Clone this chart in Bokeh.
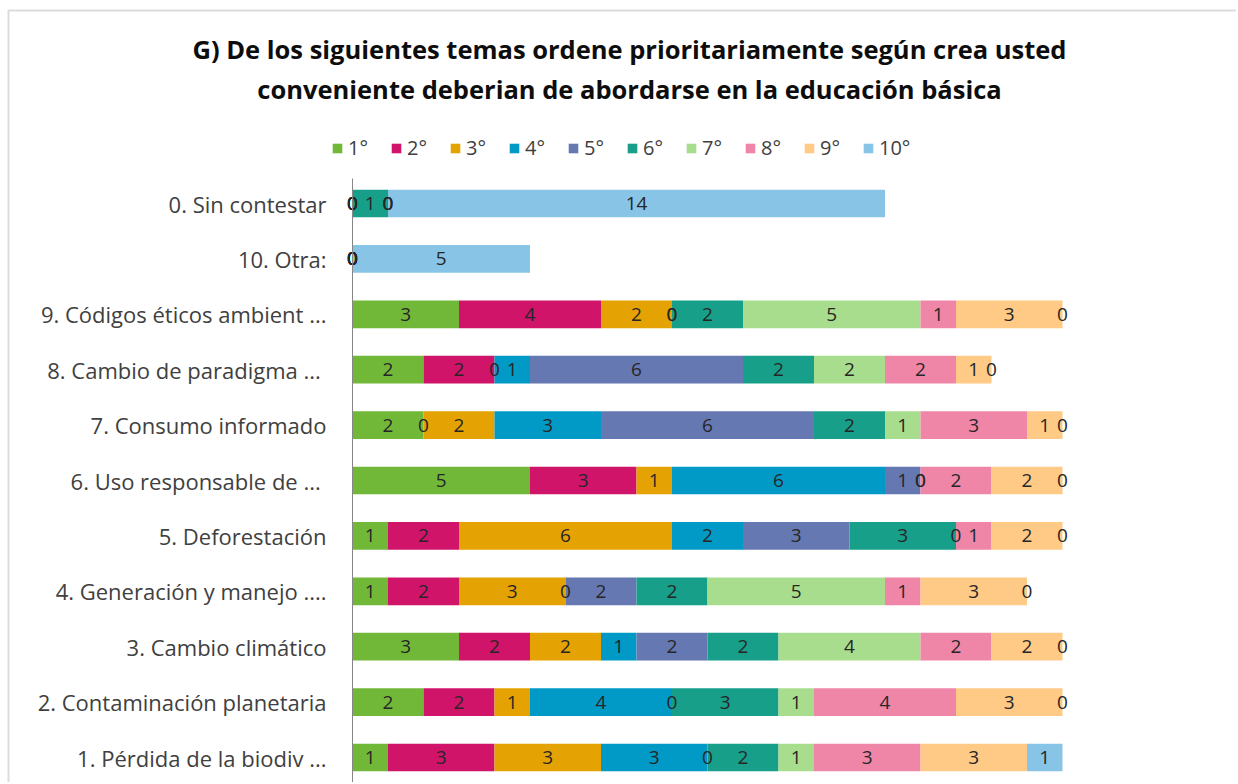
from bokeh.plotting import figure
from bokeh.models import ColumnDataSource, FixedTicker, Label, BoxAnnotation
from bokeh.core.properties import value
from bokeh.embed import file_html
from bokeh.resources import INLINE

# ---------------- data ----------------
categories = [
    "1. Pérdida de la biodiv ...",
    "2. Contaminación planetaria",
    "3. Cambio climático",
    "4. Generación y manejo ....",
    "5. Deforestación",
    "6. Uso responsable de  ...",
    "7. Consumo informado",
    "8. Cambio de paradigma  ...",
    "9. Códigos éticos ambient ...",
    "10. Otra:",
    "0. Sin contestar",
]
rank_labels = ["1°", "2°", "3°", "4°", "5°", "6°", "7°", "8°", "9°", "10°"]
r1 = [1, 2, 3, 1, 1, 5, 2, 2, 3, 0, 0]
r2 = [3, 2, 2, 2, 2, 3, 0, 2, 4, 0, 0]
r3 = [3, 1, 2, 3, 6, 1, 2, 0, 2, 0, 0]
r4 = [3, 4, 1, 0, 2, 6, 3, 1, 0, 0, 0]
r5 = [0, 0, 2, 2, 3, 1, 6, 6, 0, 0, 0]
r6 = [2, 3, 2, 2, 3, 0, 2, 2, 2, 0, 1]
r7 = [1, 1, 4, 5, 0, 0, 1, 2, 5, 0, 0]
r8 = [3, 4, 2, 1, 1, 2, 3, 2, 1, 0, 0]
r9 = [3, 3, 2, 3, 2, 2, 1, 1, 3, 0, 0]
r10 = [1, 0, 0, 0, 0, 0, 0, 0, 0, 5, 14]
series = [r1, r2, r3, r4, r5, r6, r7, r8, r9, r10]
colors = ["#72B838", "#D0146A", "#E4A302", "#019AC6", "#6578B1",
          "#179F8A", "#A9DD8E", "#EF86A8", "#FFC986", "#87C4E5"]

title_line1 = "G) De los siguientes temas ordene prioritariamente según crea usted"
title_line2 = "conveniente deberian de abordarse en la educación básica"

# ---------------- layout constants (pixels) ----------------
W, H = 1236, 782
AX_PX = 352          # pixel column of the category axis
PX_PER_X = 35.5      # pixels per unit of value
ROW1_PX = 757        # pixel row of the first category
PX_PER_ROW = 55.4
FONT = "Open Sans"


def px2x(px):
    return (px - AX_PX) / PX_PER_X


def px2y(py):
    return 1 + (ROW1_PX - py) / PX_PER_ROW


# ---------------- build ----------------
ypos = list(range(1, len(categories) + 1))
names = ["s%d" % (i + 1) for i in range(len(series))]
data = {"y": ypos}
for n, s in zip(names, series):
    data[n] = s
src = ColumnDataSource(data)

p = figure(width=W, height=H, output_backend="svg", toolbar_location=None,
           x_range=(px2x(0), px2x(W)), y_range=(px2y(H), px2y(0)),
           min_border=0, min_border_left=0, min_border_right=0,
           min_border_top=0, min_border_bottom=0)

p.hbar_stack(names, y="y", height=0.5, color=colors, source=src,
             legend_label=rank_labels, line_color=None)

# value labels
lx, ly, lt = [], [], []
for i in range(len(categories)):
    left = 0
    for s in series:
        v = s[i]
        lx.append(left + v / 2)
        ly.append(ypos[i])
        lt.append(str(v))
        left += v
lsrc = ColumnDataSource(dict(x=lx, y=ly, t=lt))
p.text(x="x", y="y", text="t", source=lsrc, text_align="center",
       text_baseline="middle", text_font=value(FONT), text_font_size="19px",
       text_color="#262626")

# axes
p.xaxis.visible = False
p.xgrid.visible = False
p.ygrid.visible = False
p.outline_line_color = None
yax = p.yaxis[0]
yax.fixed_location = 0
yax.bounds = (px2y(H), len(categories) + 0.45)
yax.ticker = FixedTicker(ticks=ypos)
yax.major_label_overrides = {y: c for y, c in zip(ypos, categories)}
yax.major_tick_line_color = None
yax.minor_tick_line_color = None
yax.major_tick_out = 0
yax.major_tick_in = 0
yax.axis_line_color = "#868686"
yax.axis_line_width = 1
yax.major_label_standoff = 26
yax.major_label_text_font = FONT
yax.major_label_text_font_size = "22px"
yax.major_label_text_color = "#404040"

# legend
lg = p.legend[0]
lg.orientation = "horizontal"
lg.location = (331, H - 161)
lg.padding = 0
lg.margin = 0
lg.spacing = 7
lg.border_line_color = None
lg.background_fill_alpha = 0
lg.glyph_width = 12
lg.glyph_height = 12
lg.label_standoff = 5
lg.label_width = 35
lg.label_text_font = FONT
lg.label_text_font_size = "20px"
lg.label_text_color = "#404040"

# chart border (left and top edges)
p.add_layout(BoxAnnotation(left=px2x(8), top=px2y(10), right=px2x(W + 50),
                           bottom=px2y(H + 50), fill_alpha=0,
                           line_color="#8c8c8c", line_width=2))

# title
for txt, py in ((title_line1, 48), (title_line2, 88)):
    p.add_layout(Label(x=px2x(629), y=px2y(py), text=txt,
                       text_align="center", text_baseline="middle",
                       text_font=FONT, text_font_style="bold",
                       text_font_size="25.5px", text_color="#0d0d0d"))

open("out.html", "w").write(file_html(p, INLINE))
